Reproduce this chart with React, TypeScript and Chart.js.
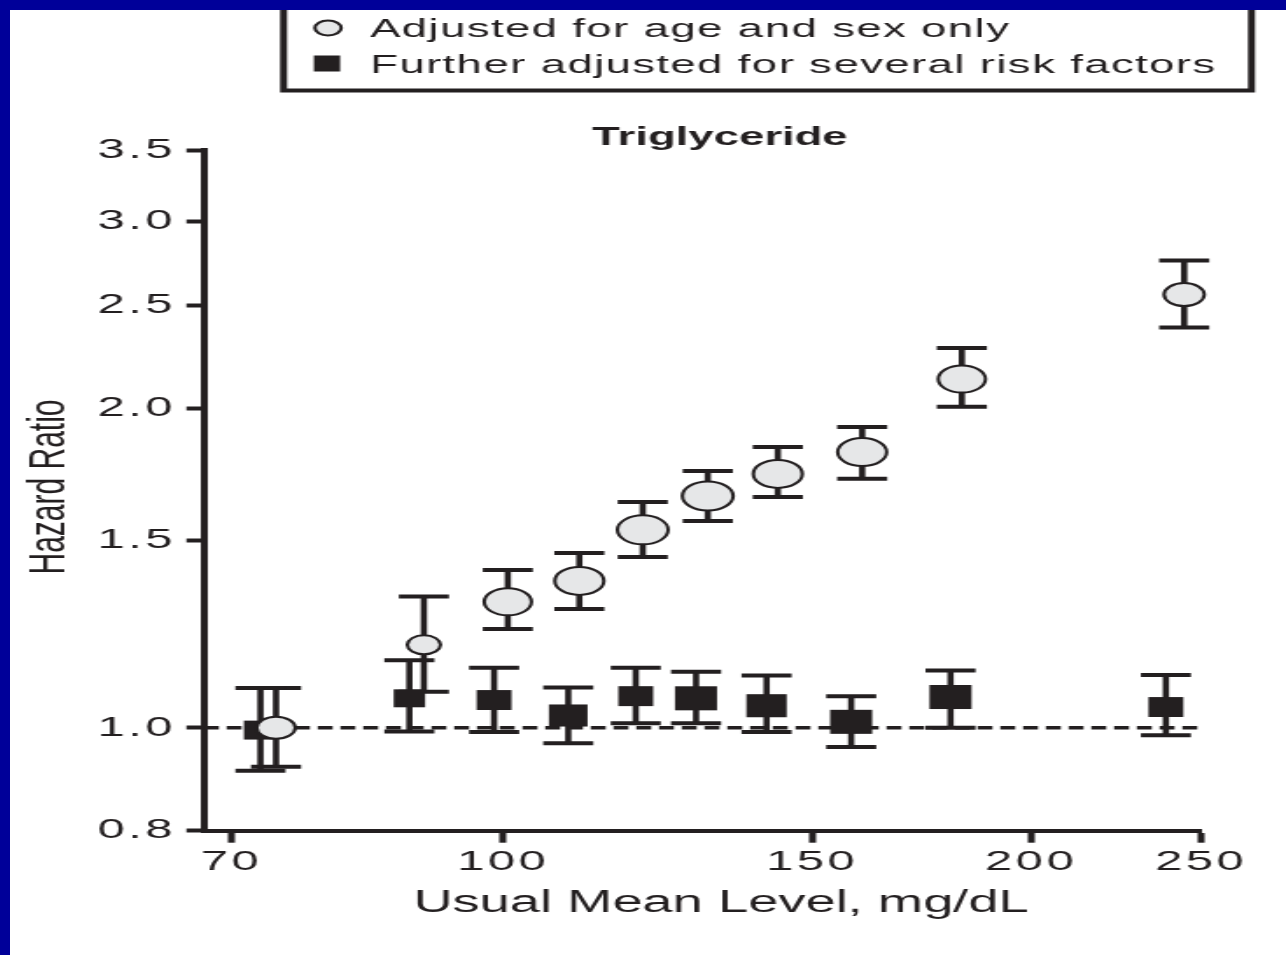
import React, { useEffect, useRef } from 'react';
import { Chart, registerables } from 'chart.js';

Chart.register(...registerables);

// ---------- data ----------
const xTickValues = [70, 100, 150, 200, 250];
const yTickValues = [0.8, 1.0, 1.5, 2.0, 2.5, 3.0, 3.5];
const xMin = 67.5;
const xMax = 250;
const yMin = 0.8;
const yMax = 3.5;
const referenceHR = 1.0;

const seriesLabels = ['Adjusted for age and sex only', 'Further adjusted for several risk factors'];

const ageSexLevels = [74.2, 90.1, 100.6, 110.5, 120.1, 130.8, 143.4, 160.2, 182.6, 244.5];
const ageSexHR = [1.0, 1.197, 1.314, 1.375, 1.536, 1.653, 1.734, 1.818, 2.13, 2.558];
const ageSexLower = [0.919, 1.081, 1.239, 1.294, 1.448, 1.566, 1.649, 1.716, 2.006, 2.382];
const ageSexUpper = [1.09, 1.329, 1.408, 1.461, 1.632, 1.745, 1.838, 1.92, 2.278, 2.754];

const furtherLevels = [72.7, 88.4, 98.8, 108.9, 119.0, 128.8, 141.3, 157.9, 179.9, 238.7];
const furtherHR = [0.995, 1.066, 1.062, 1.027, 1.071, 1.066, 1.049, 1.013, 1.069, 1.046];
const furtherLower = [0.911, 0.992, 0.991, 0.967, 1.01, 1.01, 0.991, 0.959, 1.0, 0.984];
const furtherUpper = [1.09, 1.158, 1.139, 1.091, 1.139, 1.129, 1.12, 1.071, 1.132, 1.121];

const titleText = 'Triglyceride';
const xTitleText = 'Usual Mean Level, mg/dL';
const yTitleText = 'Hazard Ratio';

// ---------- styles ----------
const INK = '#231f20';
const CIRCLE_FILL = '#e6e7e8';
const FRAME_BLUE = '#000099';
const FONT = '"Liberation Sans", Arial, Helvetica, sans-serif';
const circleRadius = [11, 9.5, 13.5, 14, 14.5, 14.5, 14, 14, 13.5, 11.5];
const squareRadius = [13.4, 12.7, 14.1, 15.6, 14.1, 17, 16.3, 17, 17, 14.1];
const CAP = 14.3;

// canvas is drawn at a narrower internal width and stretched horizontally
const CANVAS_W = 729;
const CANVAS_H = 945;
const DISPLAY_W = 1276;

const errorSeries = [
  { levels: ageSexLevels, lower: ageSexLower, upper: ageSexUpper },
  { levels: furtherLevels, lower: furtherLower, upper: furtherUpper },
];

const errorBarPlugin = {
  id: 'errorBars',
  beforeDatasetsDraw(chart: any) {
    const { ctx } = chart;
    const xs = chart.scales.x;
    const ys = chart.scales.y;
    ctx.save();
    ctx.strokeStyle = INK;
    ctx.lineCap = 'butt';
    errorSeries.forEach((s) => {
      s.levels.forEach((lv, i) => {
        const px = xs.getPixelForValue(lv);
        const pLo = ys.getPixelForValue(s.lower[i]);
        const pHi = ys.getPixelForValue(s.upper[i]);
        ctx.lineWidth = 3.6;
        ctx.beginPath();
        ctx.moveTo(px, pLo);
        ctx.lineTo(px, pHi);
        ctx.stroke();
        ctx.lineWidth = 4;
        ctx.beginPath();
        ctx.moveTo(px - CAP, pLo);
        ctx.lineTo(px + CAP, pLo);
        ctx.moveTo(px - CAP, pHi);
        ctx.lineTo(px + CAP, pHi);
        ctx.stroke();
      });
    });
    ctx.restore();
  },
};

const textPlugin = {
  id: 'texts',
  beforeDraw(chart: any) {
    chart.ctx.letterSpacing = '2px';
  },
  afterDraw(chart: any) {
    const { ctx } = chart;
    ctx.letterSpacing = '0px';
    ctx.save();
    ctx.fillStyle = INK;
    ctx.strokeStyle = INK;

    // legend box (top edge lies under the frame)
    ctx.lineWidth = 4;
    ctx.strokeRect(156.3, -20, 553, 100.5);

    // legend markers
    ctx.beginPath();
    ctx.arc(181.7, 18, 7.5, 0, Math.PI * 2);
    ctx.fillStyle = CIRCLE_FILL;
    ctx.fill();
    ctx.lineWidth = 2;
    ctx.stroke();
    ctx.fillStyle = INK;
    ctx.fillRect(181.1 - 7.5, 53.5 - 8, 15, 16);

    // legend text
    ctx.letterSpacing = '0.8px';
    ctx.font = `26px ${FONT}`;
    ctx.textAlign = 'left';
    ctx.textBaseline = 'alphabetic';
    ctx.fillText(seriesLabels[0], 205.7, 26.7);
    ctx.fillText(seriesLabels[1], 205.7, 63.3);
    ctx.letterSpacing = '0px';

    // title
    ctx.font = `bold 26px ${FONT}`;
    ctx.textAlign = 'center';
    ctx.fillText(titleText, 405.6, 135);

    // x title
    ctx.font = `31px ${FONT}`;
    ctx.fillText(xTitleText, 406.2, 901.7);

    // y title
    ctx.save();
    ctx.translate(31.4, 477);
    ctx.rotate(-Math.PI / 2);
    ctx.font = `30px ${FONT}`;
    ctx.textAlign = 'center';
    ctx.fillText(yTitleText, 0, 0);
    ctx.restore();

    ctx.restore();
  },
};

export default function App() {
  const canvasRef = useRef<HTMLCanvasElement | null>(null);

  useEffect(() => {
    const canvas = canvasRef.current;
    if (!canvas) return;
    const chart = new Chart(canvas, {
      type: 'scatter',
      data: {
        datasets: [
          {
            label: seriesLabels[0],
            data: ageSexLevels.map((x, i) => ({ x, y: ageSexHR[i] })),
            pointStyle: 'circle',
            pointRadius: circleRadius,
            pointBackgroundColor: CIRCLE_FILL,
            pointBorderColor: INK,
            pointBorderWidth: 2,
            clip: false,
            order: 1,
          },
          {
            label: seriesLabels[1],
            data: furtherLevels.map((x, i) => ({ x, y: furtherHR[i] })),
            pointStyle: 'rect',
            pointRadius: squareRadius,
            pointBackgroundColor: INK,
            pointBorderColor: INK,
            pointBorderWidth: 0,
            clip: false,
            order: 2,
          },
          {
            type: 'line',
            label: 'Reference',
            data: [
              { x: xMin, y: referenceHR },
              { x: xMax, y: referenceHR },
            ],
            borderColor: INK,
            borderWidth: 3.5,
            borderDash: [8.5, 4.5],
            pointRadius: 0,
            fill: false,
            order: 3,
          },
        ],
      } as any,
      options: {
        animation: false,
        responsive: false,
        maintainAspectRatio: false,
        devicePixelRatio: 1,
        events: [],
        layout: { padding: { left: 0, right: CANVAS_W - 680.5, top: 140, bottom: 0 } },
        plugins: {
          legend: { display: false },
          title: { display: false },
          tooltip: { enabled: false },
        },
        scales: {
          x: {
            type: 'logarithmic',
            position: 'bottom',
            min: xMin,
            max: xMax,
            afterBuildTicks: (s: any) => {
              s.ticks = xTickValues.map((v) => ({ value: v }));
            },
            afterFit: (s: any) => {
              s.height = CANVAS_H - 820.7;
            },
            ticks: {
              autoSkip: false,
              maxRotation: 0,
              minRotation: 0,
              padding: 3,
              color: INK,
              font: { family: FONT, size: 28 },
              callback: (v: any) => String(v),
            },
            grid: {
              display: true,
              drawOnChartArea: false,
              drawTicks: true,
              tickLength: 12,
              tickWidth: 4,
              tickColor: INK,
            },
            border: { display: true, color: INK, width: 4 },
          },
          y: {
            type: 'logarithmic',
            position: 'left',
            min: yMin,
            max: yMax,
            afterBuildTicks: (s: any) => {
              s.ticks = yTickValues.map((v) => ({ value: v }));
            },
            afterFit: (s: any) => {
              s.width = 110.8;
            },
            ticks: {
              autoSkip: false,
              padding: 6,
              color: INK,
              font: { family: FONT, size: 28 },
              callback: (v: any) => Number(v).toFixed(1),
            },
            grid: {
              display: true,
              drawOnChartArea: false,
              drawTicks: true,
              tickLength: 10,
              tickWidth: 4,
              tickColor: INK,
            },
            border: { display: true, color: INK, width: 4 },
          },
        },
      } as any,
      plugins: [errorBarPlugin, textPlugin],
    });
    return () => chart.destroy();
  }, []);

  return (
    <div
      style={{
        position: 'fixed',
        left: 0,
        top: 0,
        width: 1286,
        height: 955,
        background: FRAME_BLUE,
        overflow: 'hidden',
      }}
    >
      <div
        style={{
          position: 'absolute',
          left: 10,
          top: 10,
          width: DISPLAY_W,
          height: CANVAS_H,
          background: '#ffffff',
        }}
      >
        <canvas
          ref={canvasRef}
          width={CANVAS_W}
          height={CANVAS_H}
          style={{ width: `${DISPLAY_W}px`, height: `${CANVAS_H}px`, display: 'block' }}
        />
      </div>
    </div>
  );
}
